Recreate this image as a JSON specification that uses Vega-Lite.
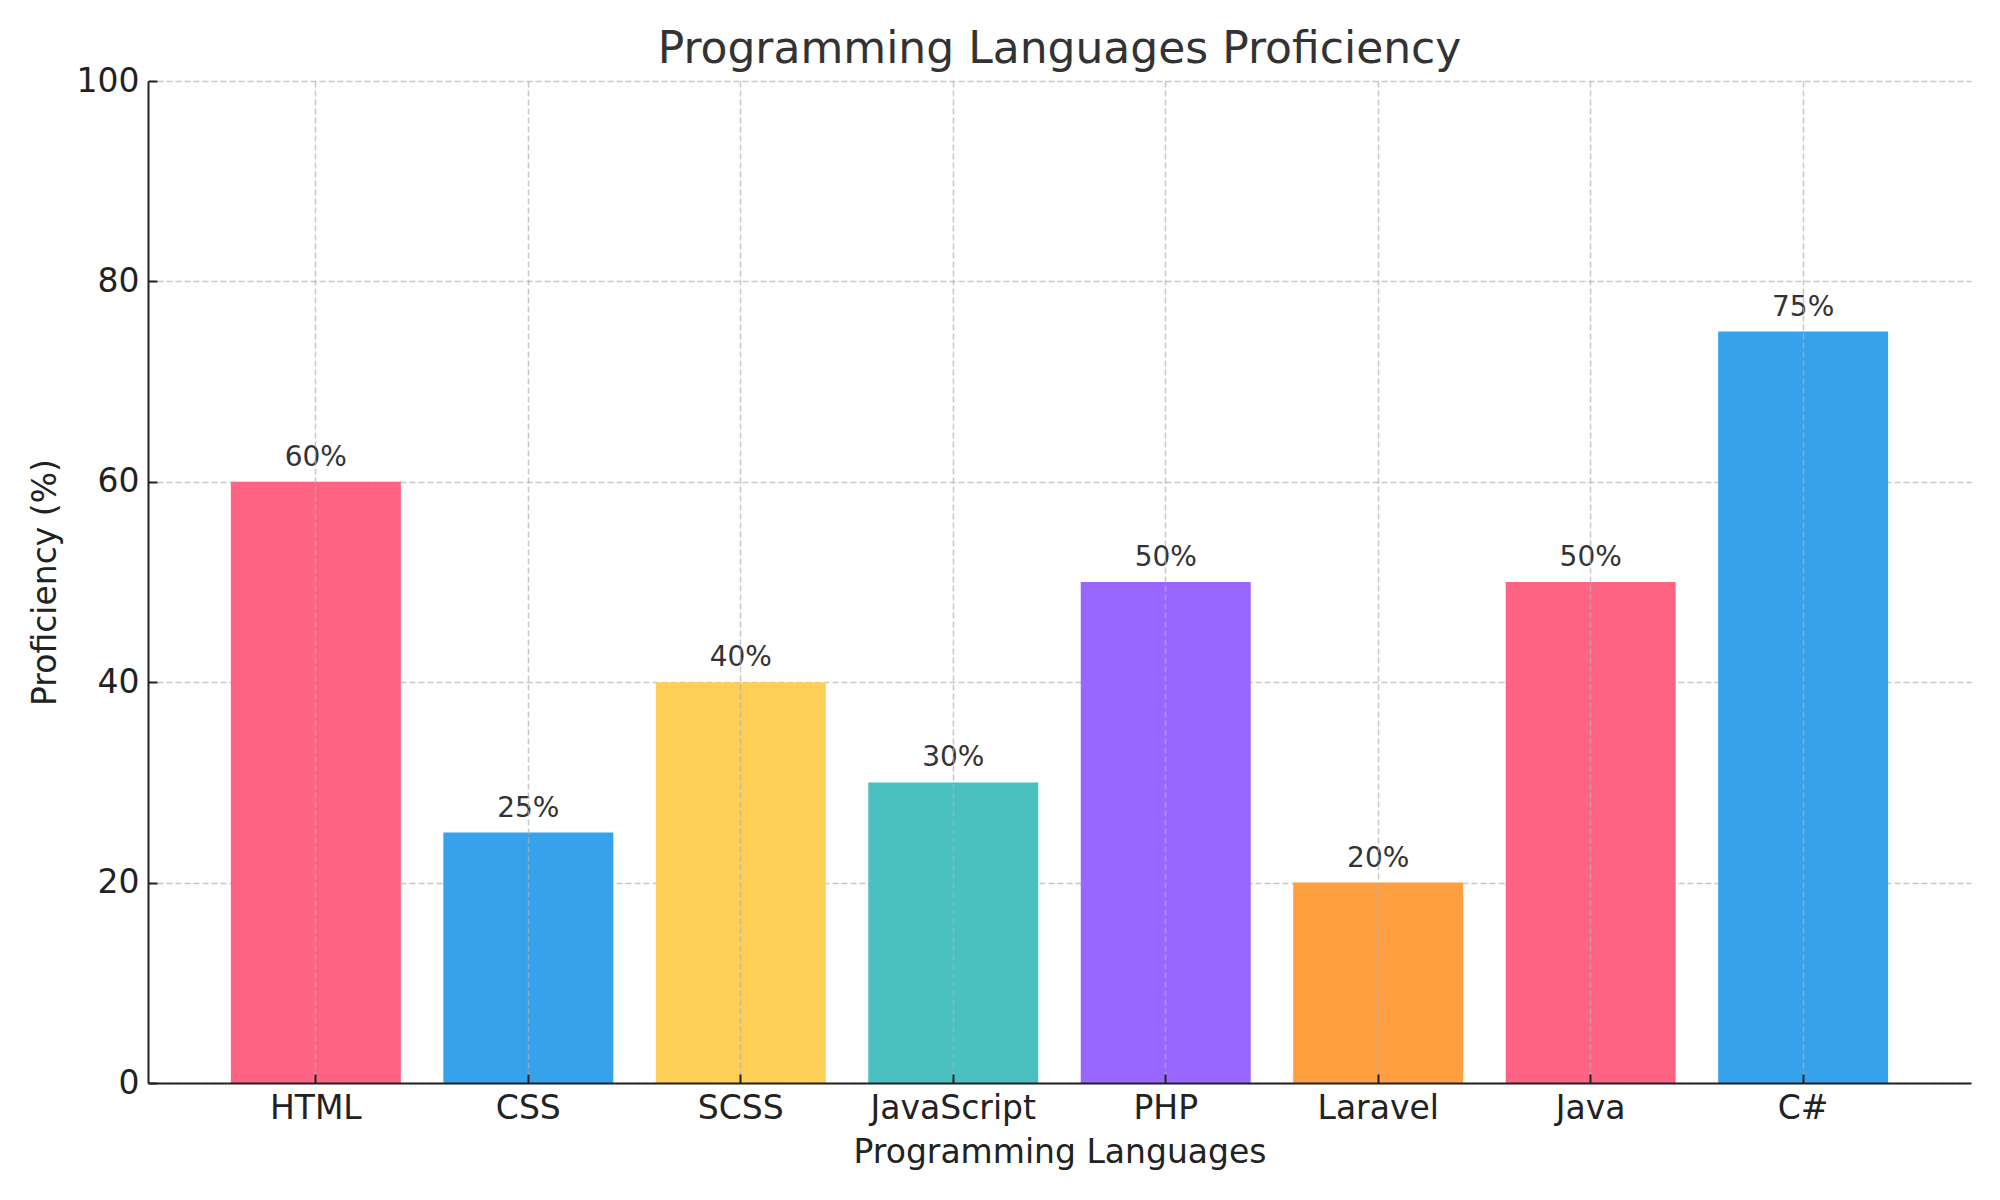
{
  "$schema": "https://vega.github.io/schema/vega-lite/v6.json",
  "width": 1823,
  "height": 1002,
  "autosize": {"type": "none"},
  "padding": {"left": 148, "top": 81, "right": 29, "bottom": 117},
  "background": "white",
  "title": {
    "text": "Programming Languages Proficiency",
    "fontSize": 44,
    "font": "DejaVu Sans",
    "fontWeight": "normal",
    "color": "#333333",
    "anchor": "middle",
    "offset": -7
  },
  "data": {
    "values": [
      {"language": "HTML", "proficiency": 60},
      {"language": "CSS", "proficiency": 25},
      {"language": "SCSS", "proficiency": 40},
      {"language": "JavaScript", "proficiency": 30},
      {"language": "PHP", "proficiency": 50},
      {"language": "Laravel", "proficiency": 20},
      {"language": "Java", "proficiency": 50},
      {"language": "C#", "proficiency": 75}
    ]
  },
  "encoding": {
    "x": {
      "field": "language",
      "type": "nominal",
      "sort": null,
      "scale": {"paddingInner": 0.2, "paddingOuter": 0.39},
      "axis": {
        "title": "Programming Languages",
        "zindex": 1,
        "labelAngle": 0,
        "labelPadding": 18,
        "titlePadding": 11
      }
    },
    "y": {
      "field": "proficiency",
      "type": "quantitative",
      "scale": {"domain": [0, 100], "nice": false},
      "axis": {
        "title": "Proficiency (%)",
        "values": [0, 20, 40, 60, 80, 100],
        "labelPadding": 18,
        "titlePadding": 14
      }
    }
  },
  "layer": [
    {
      "mark": {"type": "bar"},
      "encoding": {
        "color": {
          "field": "language",
          "type": "nominal",
          "legend": null,
          "scale": {
            "domain": ["HTML", "CSS", "SCSS", "JavaScript", "PHP", "Laravel", "Java", "C#"],
            "range": ["#FF6384", "#36A2EB", "#FFCE56", "#4BC0C0", "#9966FF", "#FF9F40", "#FF6384", "#36A2EB"]
          }
        }
      }
    },
    {
      "mark": {
        "type": "text",
        "baseline": "alphabetic",
        "dy": -16,
        "fontSize": 28,
        "font": "DejaVu Sans",
        "color": "#333333",
        "text": {"expr": "datum.proficiency + '%'"}
      }
    }
  ],
  "config": {
    "view": {"stroke": null},
    "axis": {
      "grid": true,
      "gridColor": "#b0b0b0",
      "gridOpacity": 0.7,
      "gridDash": [6, 3],
      "gridWidth": 1.5,
      "domainColor": "#222222",
      "domainWidth": 2,
      "tickColor": "#222222",
      "tickWidth": 2,
      "tickSize": -9,
      "labelFont": "DejaVu Sans",
      "labelFontSize": 33,
      "labelColor": "#222222",
      "titleFont": "DejaVu Sans",
      "titleFontSize": 33,
      "titleFontWeight": "normal",
      "titleColor": "#222222"
    }
  }
}
